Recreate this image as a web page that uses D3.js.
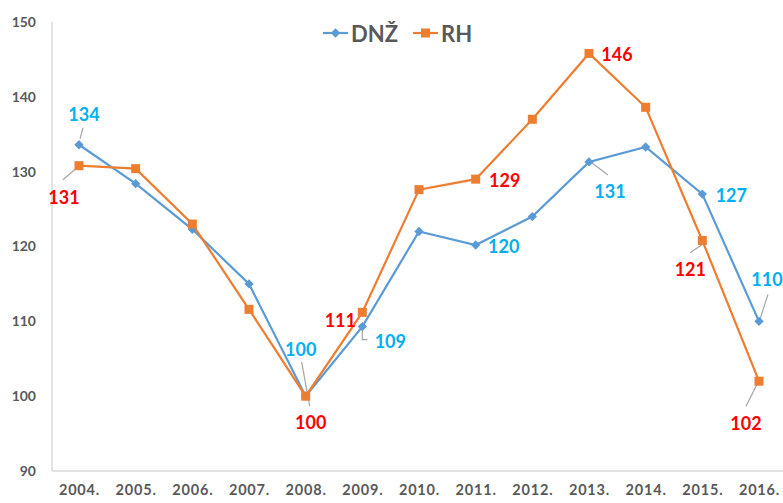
<!DOCTYPE html>
<html><head><meta charset="utf-8">
<script src="https://cdn.jsdelivr.net/npm/d3@7"></script>
<style>body{margin:0;background:#fff}svg{display:block}</style>
</head><body>
<svg id="c" width="783" height="503"></svg>
<script>
const years = ["2004.","2005.","2006.","2007.","2008.","2009.","2010.","2011.","2012.","2013.","2014.","2015.","2016."];
const dnz = [133.6,128.4,122.3,115.0,100.0,109.3,122.0,120.2,124.0,131.3,133.3,127.0,110.0];
const rh  = [130.8,130.4,123.0,111.6,100.0,111.2,127.6,129.0,137.0,145.8,138.6,120.8,102.0];
const yTicks = [90,100,110,120,130,140,150];
const seriesNames = ["DNŽ","RH"];
// data labels: [series index, point index, text]
const dataLabels = [
  [0,0,"134"],[0,4,"100"],[0,5,"109"],[0,7,"120"],[0,9,"131"],[0,11,"127"],[0,12,"110"],
  [1,0,"131"],[1,4,"100"],[1,5,"111"],[1,7,"129"],[1,9,"146"],[1,11,"121"],[1,12,"102"]
];
// label placement offsets (dx,dy of label centre from point) and leader lines (relative points)
const labelLayout = [
  {dx:5,dy:-31,lead:[[1,-6],[4,-17]]},
  {dx:-5,dy:-47,lead:[[-4,-34],[4,10]]},
  {dx:28,dy:14,lead:[[0,1],[0,13],[5,13]]},
  {dx:28,dy:1,lead:null},
  {dx:21,dy:29,lead:[[3,1],[19,13]]},
  {dx:29,dy:1,lead:null},
  {dx:8,dy:-42,lead:[[9,-27],[1,-2]]},
  {dx:-15,dy:31,lead:[[-16,14],[-2,2]]},
  {dx:5,dy:26,lead:null},
  {dx:-22,dy:8,lead:null},
  {dx:29,dy:1,lead:null},
  {dx:28,dy:1,lead:null},
  {dx:-12,dy:28,lead:[[-12,12],[0,4]]},
  {dx:-13,dy:42,lead:[[-13,25],[-2,3]]}
];
const colors = ["#5B9BD5","#ED7D31"];
const labelColors = ["#00B0F0","#FF0000"];

const svg = d3.select("#c");
const x = d3.scalePoint().domain(years).range([79,759]);
const y = d3.scaleLinear().domain([90,150]).range([471,22]);

// axes
svg.append("line").attr("x1",52).attr("x2",52).attr("y1",y(150)).attr("y2",y(90)).attr("stroke","#d9d9d9").attr("stroke-width",1.5);
svg.append("line").attr("x1",52).attr("x2",783).attr("y1",y(90)).attr("y2",y(90)).attr("stroke","#d9d9d9").attr("stroke-width",1.5);

const yAxis = d3.axisLeft(y).tickValues(yTicks).tickSize(0).tickPadding(0);
const gy = svg.append("g").attr("transform","translate(36,0)").call(yAxis);
gy.select(".domain").remove();
gy.selectAll("text").attr("font-family","Lato").attr("font-weight","bold").attr("font-size",14).attr("fill","#595959");

const xAxis = d3.axisBottom(x).tickSize(0).tickPadding(0);
const gx = svg.append("g").attr("transform","translate(0,485)").call(xAxis);
gx.select(".domain").remove();
gx.selectAll("text").attr("font-family","Lato").attr("font-weight","bold").attr("font-size",14.5).attr("letter-spacing","0.8px").attr("fill","#595959");

const series = [dnz, rh];
const line = d3.line().x((d,i)=>x(years[i])).y(d=>y(d));

// leader lines
dataLabels.forEach((l,k)=>{
  const L = labelLayout[k];
  if(!L.lead) return;
  const px = x(years[l[1]]), py = y(series[l[0]][l[1]]);
  svg.append("polyline").attr("points", L.lead.map(p=>(px+p[0])+","+(py+p[1])).join(" "))
    .attr("fill","none").attr("stroke","#a6a6a6").attr("stroke-width",1.2);
});

series.forEach((s,si)=>{
  svg.append("path").datum(s).attr("d",line).attr("fill","none").attr("stroke",colors[si]).attr("stroke-width",2.2);
});
// markers
svg.selectAll(".dm").data(dnz).enter().append("rect")
  .attr("x",-3.3).attr("y",-3.3).attr("width",6.6).attr("height",6.6)
  .attr("transform",(d,i)=>`translate(${x(years[i])},${y(d)}) rotate(45)`).attr("fill",colors[0]);
svg.selectAll(".rm").data(rh).enter().append("rect")
  .attr("x",(d,i)=>x(years[i])-4.5).attr("y",d=>y(d)-4.5).attr("width",9).attr("height",9).attr("fill",colors[1]);

// data labels
dataLabels.forEach((l,k)=>{
  const L = labelLayout[k];
  const px = x(years[l[1]]), py = y(series[l[0]][l[1]]);
  svg.append("text").attr("x",px+L.dx).attr("y",py+L.dy).attr("text-anchor","middle").attr("dominant-baseline","central")
    .attr("font-family","Lato").attr("font-weight","bold").attr("font-size",18).attr("fill",labelColors[l[0]]).text(l[2]);
});

// legend
const lg = svg.append("g");
const legX = [323, 413];
seriesNames.forEach((n,i)=>{
  const g = lg.append("g").attr("transform",`translate(${legX[i]},33)`);
  g.append("line").attr("x1",0).attr("x2",25).attr("stroke",colors[i]).attr("stroke-width",2.2);
  if(i===0) g.append("rect").attr("x",-3.3).attr("y",-3.3).attr("width",6.6).attr("height",6.6).attr("transform","translate(12.5,0) rotate(45)").attr("fill",colors[0]);
  else g.append("rect").attr("x",8).attr("y",-4.5).attr("width",9).attr("height",9).attr("fill",colors[1]);
  g.append("text").attr("x",28).attr("y",0).attr("dominant-baseline","central").attr("font-family","Lato").attr("font-weight","bold").attr("font-size",22).attr("fill","#595959").text(n);
});
</script>
</body></html>
